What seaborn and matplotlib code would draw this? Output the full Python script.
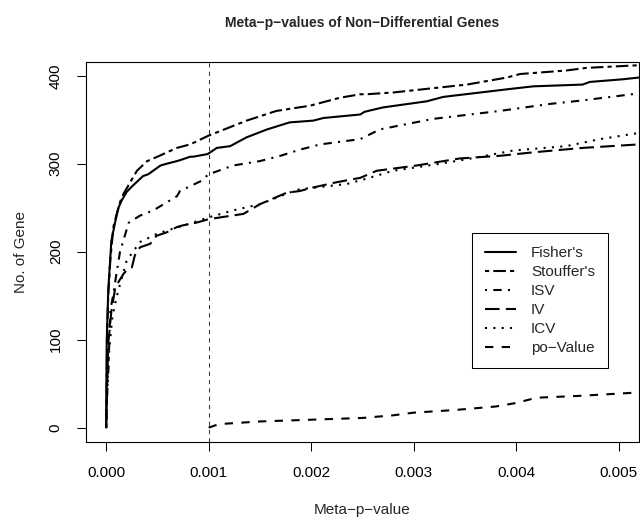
import matplotlib
matplotlib.use("Agg")
import matplotlib.pyplot as plt
import pandas as pd
import seaborn as sns

# cumulative no. of genes vs meta-p-value
fisher_x = [0, 0.000002, 0.000005, 0.00002, 0.00005, 0.00009, 0.00012, 0.00015, 0.0002, 0.00025,
            0.00036, 0.00041, 0.00053, 0.00059, 0.00069, 0.00072, 0.00082, 0.00085, 0.00099, 0.00108,
            0.00121, 0.00137, 0.00157, 0.00179, 0.00202, 0.00212, 0.00248, 0.00252, 0.0027, 0.00313,
            0.00329, 0.00394, 0.00417, 0.00465, 0.00472, 0.00504, 0.0052]
fisher_y = [0, 50, 99, 156, 212, 235, 250, 258, 268, 274,
            286, 288, 298, 300, 303, 304, 308, 308, 311, 318,
            320, 330, 339, 347, 349, 352, 356, 359, 364, 371,
            376, 385, 388, 390, 393, 396, 398]

stouffer_x = [0, 0.000005, 0.00001, 0.00002, 0.00004, 0.00007, 0.0001, 0.00014, 0.00017, 0.00025,
              0.0003, 0.0004, 0.0005, 0.00069, 0.00082, 0.001, 0.00137, 0.00166, 0.00199, 0.00228,
              0.00248, 0.00254, 0.0028, 0.00352, 0.00391, 0.00404, 0.00449, 0.00469, 0.0052]
stouffer_y = [0, 50, 110, 150, 190, 228, 242, 258, 266, 282,
              292, 303, 308, 318, 322, 332, 349, 360, 366, 375,
              379, 379, 381, 390, 398, 402, 406, 409, 412]

isv_x = [0, 0.00001, 0.00002, 0.00004, 0.00007, 0.0001, 0.000135, 0.00022, 0.00033, 0.00046,
         0.00059, 0.00069, 0.00072, 0.00092, 0.001, 0.00124, 0.0015, 0.0017, 0.00189, 0.00209,
         0.00248, 0.00267, 0.00319, 0.00384, 0.00433, 0.00465, 0.0052]
isv_y = [0, 40, 61, 133, 152, 175, 200, 233, 241, 247,
         256, 263, 269, 280, 288, 298, 303, 309, 316, 322,
         328, 339, 351, 360, 368, 372, 380]

iv_x = [0, 0.00001, 0.00002, 0.00005, 0.00009, 0.00017, 0.0002, 0.00025, 0.00028, 0.00033,
        0.00043, 0.00049, 0.00059, 0.00069, 0.00075, 0.00088, 0.001, 0.00134, 0.0015, 0.00176,
        0.00189, 0.00202, 0.00225, 0.00248, 0.00264, 0.00303, 0.00345, 0.00384, 0.00417, 0.00465,
        0.0052]
iv_y = [0, 50, 95, 132, 160, 175, 179, 182, 196, 205,
        209, 218, 222, 228, 230, 233, 237, 243, 254, 267,
        269, 273, 279, 284, 292, 298, 306, 309, 313, 318,
        322]

icv_x = [0, 0.00001, 0.00003, 0.00006, 0.0001, 0.000135, 0.0002, 0.00033, 0.00049, 0.00059,
         0.00079, 0.001, 0.00124, 0.0015, 0.00183, 0.00189, 0.00235, 0.00254, 0.0028, 0.00326,
         0.00361, 0.00397, 0.00449, 0.00482, 0.0052]
icv_y = [0, 45, 90, 125, 148, 163, 190, 211, 220, 224,
         231, 239, 247, 254, 269, 271, 277, 283, 292, 300,
         307, 315, 320, 328, 335]

pov_x = [0.001, 0.0011, 0.0015, 0.002, 0.0025, 0.0028, 0.003, 0.0034, 0.0038, 0.004, 0.0042, 0.0046, 0.0052]
pov_y = [0, 4, 7, 9, 11, 14, 17, 20, 24, 28, 34, 36, 40]

methods = ["Fisher's", "Stouffer's", "ISV", "IV", "ICV", "po\u2212Value"]
series = [(fisher_x, fisher_y), (stouffer_x, stouffer_y), (isv_x, isv_y),
          (iv_x, iv_y), (icv_x, icv_y), (pov_x, pov_y)]

x_ticks = [0, 0.001, 0.002, 0.003, 0.004, 0.005]
x_tick_labels = ["0.000", "0.001", "0.002", "0.003", "0.004", "0.005"]
y_ticks = [0, 100, 200, 300, 400]
cutoff = 0.001

# R style line types: solid, twodash, dotdash, longdash, dotted, dashed
line_dashes = {
    "Fisher's": "",
    "Stouffer's": (2, 2, 6, 2),
    "ISV": (1, 3, 4, 3),
    "IV": (7, 3),
    "ICV": (1, 3),
    "po\u2212Value": (4, 4),
}

frames = []
for name, (xs, ys) in zip(methods, series):
    frames.append(pd.DataFrame({"p": xs, "n": ys, "Method": name}))
df = pd.concat(frames, ignore_index=True)

sns.set_style("ticks")
plt.rcParams["font.family"] = ["Liberation Sans", "DejaVu Sans"]

fig = plt.figure(figsize=(6.4, 5.19), dpi=100)
ax = fig.add_axes([85.7 / 640, 77.3 / 519, 553.3 / 640, 380 / 519])

sns.lineplot(data=df, x="p", y="n", style="Method", style_order=methods,
             dashes=line_dashes, color="black", linewidth=1.5,
             estimator=None, sort=False, legend=False, ax=ax)
ax.axvline(cutoff, color="#333333", linewidth=0.75, linestyle=(0, (4, 4)))

ax.set_xlim(-0.0002, 0.0052)
ax.set_ylim(-16, 416)
ax.set_xticks(x_ticks)
ax.set_xticklabels(x_tick_labels)
ax.set_yticks(y_ticks)
ax.tick_params(axis="both", direction="out", length=6.5, width=0.75,
               color="black", labelsize=11, labelcolor="black")
ax.tick_params(axis="x", pad=11)
ax.tick_params(axis="y", pad=10, labelrotation=90)
plt.setp(ax.get_yticklabels(), va="center")
for side in ["left", "right", "top", "bottom"]:
    ax.spines[side].set_visible(True)
    ax.spines[side].set_color("black")
    ax.spines[side].set_linewidth(0.8)

ax.set_xlabel("Meta\u2212p\u2212value", fontsize=11)
ax.set_ylabel("No. of Gene", fontsize=11)
ax.xaxis.set_label_coords(0.5, -0.162)
ax.yaxis.set_label_coords(-0.104, 0.5)
ax.set_title("Meta\u2212p\u2212values of Non\u2212Differential Genes",
             fontsize=10, fontweight="bold", pad=25)

leg = ax.legend(ax.lines[:6], methods, loc="center",
                bbox_to_anchor=(540 / 640, 1 - 300.5 / 519), bbox_transform=fig.transFigure,
                frameon=True, fancybox=False, framealpha=1, edgecolor="black",
                fontsize=11, handlelength=2.0, handletextpad=1.0,
                labelspacing=0.33, borderpad=0.85, borderaxespad=0)
leg.get_frame().set_linewidth(0.75)

fig.savefig("out.png", dpi=100)
